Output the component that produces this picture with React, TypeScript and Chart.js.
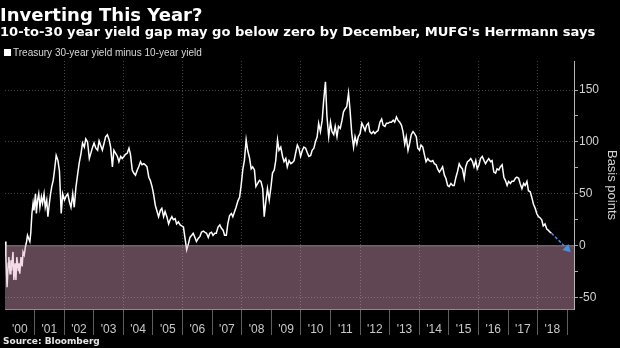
import React, { useEffect, useRef } from "react";
import { Chart, registerables } from "chart.js";

Chart.register(...registerables);

// ---- data ----
const earlyDates = [
  2000.00, 2000.03, 2000.07, 2000.11, 2000.13, 2000.17, 2000.20, 2000.22, 2000.27, 2000.30,
  2000.34, 2000.37, 2000.40, 2000.45, 2000.47, 2000.50, 2000.54, 2000.58, 2000.61, 2000.65,
  2000.69, 2000.73, 2000.76, 2000.80, 2000.84, 2000.87, 2000.91, 2000.95, 2000.98, 2001.03,
  2001.06, 2001.10, 2001.14, 2001.18, 2001.23, 2001.27, 2001.32, 2001.36, 2001.41, 2001.45,
  2001.50, 2001.54, 2001.58, 2001.63,
];
const earlyValues = [
  4, -11, -40, -17, -11, -27, -14, -24, -6, -33,
  -17, -33, -11, -24, -17, -27, -11, -20, -6, -9,
  -1, 4, 10, 7, 4, 12, 31, 41, 34, 50,
  31, 44, 50, 37, 47, 41, 50, 37, 44, 28,
  41, 50, 57, 63,
];
const laterDates = [
  2001.67, 2001.73, 2001.79, 2001.84, 2001.90, 2001.95, 2002.01, 2002.07, 2002.12, 2002.18,
  2002.23, 2002.29, 2002.34, 2002.40, 2002.46, 2002.51, 2002.57, 2002.62, 2002.68, 2002.73,
  2002.79, 2002.85, 2002.90, 2002.96, 2003.01, 2003.07, 2003.13, 2003.18, 2003.24, 2003.29,
  2003.35, 2003.40, 2003.46, 2003.52, 2003.57, 2003.63, 2003.68, 2003.74, 2003.80, 2003.85,
  2003.91, 2003.96, 2004.02, 2004.07, 2004.13, 2004.19, 2004.24, 2004.30, 2004.35, 2004.41,
  2004.47, 2004.52, 2004.58, 2004.63, 2004.69, 2004.74, 2004.80, 2004.86, 2004.91, 2004.97,
  2005.02, 2005.08, 2005.13, 2005.19, 2005.25, 2005.30, 2005.36, 2005.41, 2005.47, 2005.53,
  2005.58, 2005.64, 2005.69, 2005.75, 2005.80, 2005.86, 2005.92, 2005.97, 2006.03, 2006.08,
  2006.14, 2006.20, 2006.25, 2006.31, 2006.36, 2006.42, 2006.47, 2006.53, 2006.59, 2006.64,
  2006.70, 2006.75, 2006.81, 2006.87, 2006.92, 2006.98, 2007.03, 2007.09, 2007.14, 2007.20,
  2007.26, 2007.31, 2007.37, 2007.42, 2007.48, 2007.53, 2007.59, 2007.65, 2007.70, 2007.76,
  2007.81, 2007.87, 2007.93, 2007.98, 2008.04, 2008.09, 2008.15, 2008.20, 2008.26, 2008.32,
  2008.37, 2008.43, 2008.48, 2008.54, 2008.60, 2008.65, 2008.71, 2008.76, 2008.82, 2008.87,
  2008.93, 2008.99, 2009.04, 2009.10, 2009.15, 2009.21, 2009.26, 2009.32, 2009.38, 2009.43,
  2009.49, 2009.54, 2009.60, 2009.66, 2009.71, 2009.77, 2009.82, 2009.88, 2009.93, 2009.99,
  2010.05, 2010.10, 2010.16, 2010.21, 2010.27, 2010.33, 2010.38, 2010.44, 2010.49, 2010.55,
  2010.60, 2010.66, 2010.72, 2010.77, 2010.83, 2010.88, 2010.94, 2011.00, 2011.05, 2011.11,
  2011.16, 2011.22, 2011.27, 2011.33, 2011.39, 2011.44, 2011.50, 2011.55, 2011.61, 2011.66,
  2011.72, 2011.78, 2011.83, 2011.89, 2011.94, 2012.00, 2012.06, 2012.11, 2012.17, 2012.22,
  2012.28, 2012.33, 2012.39, 2012.45, 2012.50, 2012.56, 2012.61, 2012.67, 2012.73, 2012.78,
  2012.84, 2012.89, 2012.95, 2013.00, 2013.06, 2013.12, 2013.17, 2013.23, 2013.28, 2013.34,
  2013.40, 2013.45, 2013.51, 2013.56, 2013.62, 2013.67, 2013.73, 2013.79, 2013.84, 2013.90,
  2013.95, 2014.01, 2014.06, 2014.12, 2014.18, 2014.23, 2014.29, 2014.34, 2014.40, 2014.46,
  2014.51, 2014.57, 2014.62, 2014.68, 2014.73, 2014.79, 2014.85, 2014.90, 2014.96, 2015.01,
  2015.07, 2015.13, 2015.18, 2015.24, 2015.29, 2015.35, 2015.40, 2015.46, 2015.52, 2015.57,
  2015.63, 2015.68, 2015.74, 2015.80, 2015.85, 2015.91, 2015.96, 2016.02, 2016.07, 2016.13,
  2016.19, 2016.24, 2016.30, 2016.35, 2016.41, 2016.46, 2016.52, 2016.58, 2016.63, 2016.69,
  2016.74, 2016.80, 2016.86, 2016.91, 2016.97, 2017.02, 2017.08, 2017.13, 2017.19, 2017.25,
  2017.30, 2017.36, 2017.41, 2017.47, 2017.53, 2017.58, 2017.64, 2017.69, 2017.75, 2017.80,
  2017.86, 2017.92, 2017.97, 2018.03, 2018.08, 2018.14, 2018.19, 2018.25, 2018.31, 2018.36,
  2018.42, 2018.47,
];
const laterValues = [
  72, 87, 82, 72, 31, 50, 44, 48, 50, 42,
  37, 50, 37, 57, 70, 80, 89, 99, 95, 103,
  100, 84, 89, 95, 99, 94, 92, 101, 96, 92,
  99, 105, 107, 102, 95, 76, 92, 89, 86, 81,
  86, 84, 86, 88, 89, 94, 88, 73, 70, 68,
  73, 76, 81, 78, 79, 78, 76, 66, 63, 57,
  50, 39, 34, 28, 34, 36, 28, 33, 28, 21,
  25, 28, 25, 26, 21, 23, 20, 19, 18, 8,
  -4, 2, 8, 10, 12, 8, 4, 7, 9, 13,
  14, 13, 12, 8, 12, 13, 10, 12, 12, 18,
  20, 17, 15, 10, 10, 21, 29, 31, 28, 33,
  37, 43, 47, 58, 74, 82, 102, 92, 85, 74,
  76, 73, 57, 60, 63, 62, 55, 28, 44, 55,
  44, 57, 70, 73, 82, 102, 92, 95, 86, 81,
  84, 76, 82, 79, 80, 82, 89, 97, 94, 86,
  92, 95, 94, 90, 86, 87, 92, 94, 100, 105,
  118, 110, 121, 140, 158, 125, 105, 119, 110, 107,
  115, 105, 115, 113, 121, 129, 132, 134, 147, 131,
  108, 95, 105, 98, 105, 108, 118, 115, 111, 116,
  118, 110, 108, 110, 108, 110, 111, 119, 122, 116,
  115, 118, 118, 119, 119, 121, 119, 124, 121, 119,
  116, 110, 98, 105, 92, 98, 107, 110, 108, 105,
  94, 92, 97, 95, 87, 81, 84, 82, 81, 82,
  79, 78, 74, 71, 73, 76, 68, 65, 58, 57,
  60, 58, 58, 66, 71, 79, 76, 74, 65, 76,
  81, 82, 84, 81, 76, 82, 74, 78, 84, 86,
  82, 79, 82, 84, 81, 82, 71, 70, 74, 73,
  76, 78, 66, 63, 58, 62, 60, 62, 62, 65,
  66, 65, 60, 55, 60, 58, 62, 53, 52, 47,
  40, 36, 31, 28, 27, 25, 19, 21, 16, 15,
  13, 12,
];
const forecastDates = [2018.47, 2019.0];
const forecastValues = [12, -3];

const yearLabels = [
  "'00", "'01", "'02", "'03", "'04", "'05", "'06", "'07", "'08", "'09",
  "'10", "'11", "'12", "'13", "'14", "'15", "'16", "'17", "'18",
];
const firstYear = 2000;
const xMin = 2000;
const xMax = 2019.23;
const yMin = -61;
const yMax = 178;
const yTickValues = [-50, -25, 0, 25, 50, 75, 100, 125, 150];
const yLabelStep = 50;

const TITLE = "Inverting This Year?";
const SUBTITLE = "10-to-30 year yield gap may go below zero by December, MUFG's Herrmann says";
const LEGEND = "Treasury 30-year yield minus 10-year yield";
const SOURCE = "Source: Bloomberg";
const Y_TITLE = "Basis points";

const TRANSPARENT = "rgba(0,0,0,0)";
const GRID = "#454545";
const ARROW = "#4a8fdc";

export default function App() {
  const canvasRef = useRef<HTMLCanvasElement | null>(null);

  useEffect(() => {
    document.body.style.margin = "0";
    document.body.style.background = "#000";
    const canvas = canvasRef.current;
    if (!canvas) return;

    Chart.defaults.font.family = "'Liberation Sans', Arial, sans-serif";

    const dates = [...earlyDates, ...laterDates];
    const values = [...earlyValues, ...laterValues];
    const series = dates.map((d, i) => ({ x: d, y: values[i] }));
    const forecast = forecastDates.map((d, i) => ({ x: d, y: forecastValues[i] }));
    const band = [
      { x: xMin, y: 0 },
      { x: xMax, y: 0 },
    ];

    const xTickValues: number[] = [];
    for (let i = 0; i < yearLabels.length; i++) {
      xTickValues.push(firstYear + i + 0.5);
      xTickValues.push(firstYear + i + 1);
    }

    const chart = new Chart(canvas, {
      type: "line",
      data: {
        datasets: [
          {
            label: "forecast",
            data: forecast,
            borderColor: ARROW,
            borderWidth: 1.5,
            borderDash: [3, 2],
            fill: false,
            pointRadius: [0, 5],
            pointStyle: "triangle",
            pointRotation: 135,
            pointBackgroundColor: ARROW,
            pointBorderColor: ARROW,
            pointBorderWidth: 0,
          },
          {
            label: "band",
            data: band,
            borderColor: "rgba(236,196,216,0.55)",
            borderWidth: 1,
            backgroundColor: "rgba(226,166,196,0.42)",
            fill: "start",
            pointRadius: 0,
          },
          {
            label: LEGEND,
            data: series,
            borderColor: "#ffffff",
            borderWidth: 1.5,
            fill: false,
            pointRadius: 0,
            tension: 0,
          },
        ],
      },
      options: {
        animation: false,
        responsive: false,
        maintainAspectRatio: false,
        devicePixelRatio: 1,
        layout: { padding: { top: 61, left: 0, right: 0, bottom: 0 } },
        plugins: {
          legend: { display: false },
          tooltip: { enabled: false },
        },
        scales: {
          x: {
            type: "linear",
            position: "bottom",
            min: xMin,
            max: xMax,
            afterBuildTicks: (scale: any) => {
              scale.ticks = xTickValues.map((v) => ({ value: v }));
            },
            afterFit: (scale: any) => {
              scale.height = 39;
              scale.paddingLeft = 0;
              scale.paddingRight = 0;
            },
            ticks: {
              autoSkip: false,
              maxRotation: 0,
              minRotation: 0,
              padding: -13,
              color: "#c8c8c8",
              font: { size: 12 },
              callback: (value: any) => {
                const v = Number(value);
                if (Math.abs(v % 1) > 0.25) {
                  return yearLabels[Math.floor(v) - firstYear] ?? "";
                }
                return "";
              },
            },
            grid: {
              drawOnChartArea: true,
              drawTicks: true,
              tickLength: 26,
              lineWidth: 1,
              color: (ctx: any) => {
                const v = ctx.tick ? ctx.tick.value : NaN;
                if (Number.isInteger(v) && v % 2 === 0 && v > firstYear) return GRID;
                return TRANSPARENT;
              },
              tickColor: (ctx: any) => {
                const v = ctx.tick ? ctx.tick.value : NaN;
                return Number.isInteger(v) ? "#5e5e5e" : TRANSPARENT;
              },
            },
            border: { display: true, color: "#8c8c8c", width: 1, dash: [1, 2] },
          },
          y: {
            type: "linear",
            position: "right",
            min: yMin,
            max: yMax,
            afterBuildTicks: (scale: any) => {
              scale.ticks = yTickValues.map((v) => ({ value: v }));
            },
            afterFit: (scale: any) => {
              scale.width = 46;
              scale.paddingTop = 0;
              scale.paddingBottom = 0;
            },
            ticks: {
              color: "#d2d2d2",
              font: { size: 12 },
              padding: 1,
              callback: (value: any) => {
                const v = Number(value);
                return v % yLabelStep === 0 ? String(v) : "";
              },
            },
            grid: {
              drawOnChartArea: true,
              drawTicks: true,
              tickLength: 4,
              lineWidth: 1,
              color: (ctx: any) => {
                const v = ctx.tick ? ctx.tick.value : NaN;
                return v % yLabelStep === 0 && v !== 0 ? GRID : TRANSPARENT;
              },
              tickColor: "#a8a8a8",
            },
            border: { display: true, color: "#b4b4b4", width: 1, dash: [1, 2] },
            title: {
              display: true,
              text: Y_TITLE,
              color: "#d2d2d2",
              font: { size: 13 },
              padding: { top: 1, bottom: 0 },
            },
          },
        },
      },
    });

    return () => {
      chart.destroy();
    };
  }, []);

  return (
    <div
      style={{
        position: "absolute",
        left: 0,
        top: 0,
        width: 620,
        height: 348,
        background: "#000",
        overflow: "hidden",
      }}
    >
      <canvas
        ref={canvasRef}
        width={620}
        height={348}
        style={{ position: "absolute", left: 0, top: 0, width: 620, height: 348 }}
      />
      <div
        style={{
          position: "absolute",
          left: 0,
          top: 6,
          fontFamily: "'DejaVu Sans', sans-serif",
          fontWeight: "bold",
          fontSize: 18,
          lineHeight: "18px",
          color: "#ffffff",
          whiteSpace: "nowrap",
        }}
      >
        {TITLE}
      </div>
      <div
        style={{
          position: "absolute",
          left: 0,
          top: 25,
          fontFamily: "'DejaVu Sans', sans-serif",
          fontWeight: "bold",
          fontSize: 13.1,
          lineHeight: "13.5px",
          color: "#ffffff",
          whiteSpace: "nowrap",
        }}
      >
        {SUBTITLE}
      </div>
      <div
        style={{
          position: "absolute",
          left: 4,
          top: 47,
          display: "flex",
          alignItems: "center",
          whiteSpace: "nowrap",
        }}
      >
        <span
          style={{
            display: "inline-block",
            width: 7,
            height: 7,
            background: "#ffffff",
            marginRight: 2,
          }}
        />
        <span
          style={{
            display: "inline-block",
            fontFamily: "'Liberation Sans', Arial, sans-serif",
            fontSize: 11,
            lineHeight: "11px",
            color: "#d8d8d8",
            transform: "scaleX(0.91)",
            transformOrigin: "left center",
          }}
        >
          {LEGEND}
        </span>
      </div>
      <div
        style={{
          position: "absolute",
          left: 3,
          top: 337,
          fontFamily: "'DejaVu Sans', sans-serif",
          fontWeight: "bold",
          fontSize: 9,
          lineHeight: "9px",
          color: "#e6e6e6",
          whiteSpace: "nowrap",
        }}
      >
        {SOURCE}
      </div>
    </div>
  );
}
